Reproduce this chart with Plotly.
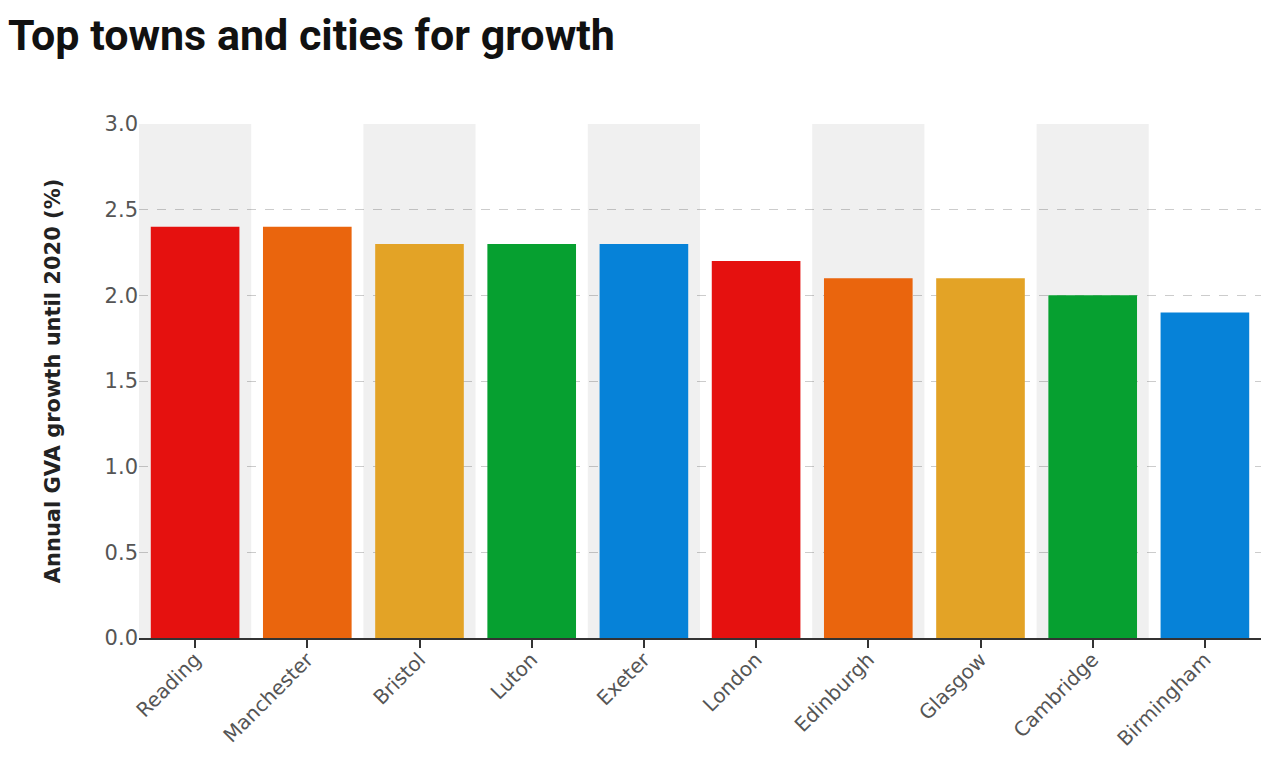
import plotly.graph_objects as go

cities = ["Reading", "Manchester", "Bristol", "Luton", "Exeter",
          "London", "Edinburgh", "Glasgow", "Cambridge", "Birmingham"]
growth = [2.4, 2.4, 2.3, 2.3, 2.3, 2.2, 2.1, 2.1, 2.0, 1.9]
bar_colors = ["#E5110F", "#EA650D", "#E3A326", "#06A030", "#0682D8",
              "#E5110F", "#EA650D", "#E3A326", "#06A030", "#0682D8"]
y_max = 3.0
band_values = [y_max if i % 2 == 0 else None for i in range(len(cities))]

title_text = "Top towns and cities for growth"
y_title = "Annual GVA growth until 2020 (%)"

fig = go.Figure()
fig.add_trace(go.Bar(x=cities, y=band_values, width=1,
                     marker=dict(color="rgba(0,0,0,0.06)", line=dict(width=0)),
                     hoverinfo="skip", showlegend=False))
fig.add_trace(go.Bar(x=cities, y=growth, width=0.79,
                     marker=dict(color=bar_colors, line=dict(width=0)),
                     showlegend=False))

fig.update_layout(
    width=1264, height=747,
    barmode="overlay",
    paper_bgcolor="white", plot_bgcolor="white",
    margin=dict(l=131, r=11, t=116, b=117, autoexpand=False),
    title=dict(text="<b>" + title_text + "</b>", x=0.0, xanchor="left",
               y=0.964, yanchor="middle",
               font=dict(family="Roboto", size=43, color="#111111")),
    font=dict(family="DejaVu Sans", color="#555555"),
)
fig.update_yaxes(range=[0, y_max], dtick=0.5, tickformat=".1f",
                 showgrid=True, gridcolor="#cccccc", griddash="dash", gridwidth=1,
                 zeroline=False, showline=False, ticks="", automargin=False,
                 tickfont=dict(size=21, color="#555555"),
                 title=dict(text="<b>" + y_title + "</b>",
                            font=dict(family="DejaVu Sans", size=21, color="#222222"),
                            standoff=38))
fig.update_xaxes(showgrid=False, showline=True, linecolor="#333333", linewidth=2,
                 ticks="outside", ticklen=8, tickcolor="#333333", tickwidth=2,
                 automargin=False, ticklabelstandoff=-8,
                 tickangle=-45, tickfont=dict(size=20, color="#555555"))

fig.write_html("out.html")
